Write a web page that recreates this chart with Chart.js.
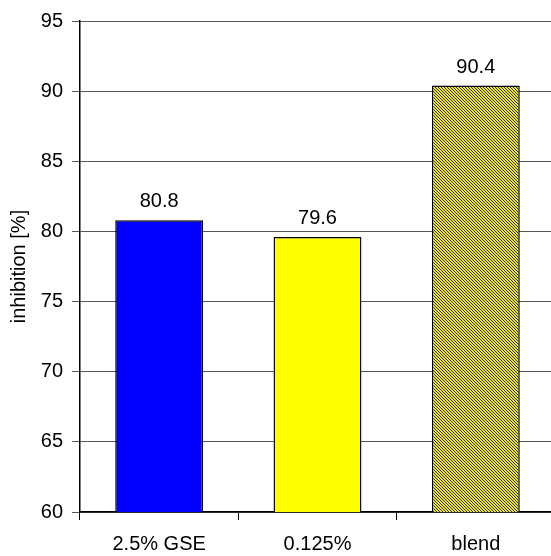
<!DOCTYPE html>
<html><head><meta charset="utf-8">
<script src="https://cdn.jsdelivr.net/npm/chart.js@4/dist/chart.umd.min.js"></script>
<style>html,body{margin:0;padding:0;background:#fff;overflow:hidden}#wrap{width:556px;height:556px;position:relative}</style>
</head><body><div id="wrap"><canvas id="c"></canvas></div>
<script>
const categories = ["2.5% GSE", "0.125%", "blend"];
const values = [80.8, 79.6, 90.4];
const yTicks = [60, 65, 70, 75, 80, 85, 90, 95];
const yTitle = "inhibition [%]";

function makePattern(){
  const p = document.createElement('canvas');
  p.width = 3; p.height = 3;
  const g = p.getContext('2d');
  g.fillStyle = '#f0e800'; g.fillRect(0,0,3,3);
  g.fillStyle = '#2a2a90';
  for (let i=0;i<3;i++){ g.fillRect(i,i,1,1); }
  return g.createPattern(p,'repeat');
}
const FAM = "'Liberation Sans', Arial, sans-serif";
const font = {family:FAM, size:20};
const labelPlugin = {
  id:'vals',
  afterDatasetsDraw(chart){
    const ctx = chart.ctx; const meta = chart.getDatasetMeta(0);
    ctx.save(); ctx.fillStyle='#000'; ctx.font="20px " + FAM;
    ctx.textAlign='center'; ctx.textBaseline='alphabetic';
    meta.data.forEach((b,i)=>{ ctx.fillText(values[i].toFixed(1), b.x, b.y-13); });
    ctx.restore();
  }
};
new Chart(document.getElementById('c'), {
  type:'bar',
  data:{labels:categories, datasets:[{data:values,
    backgroundColor:['#0000ff','#ffff00',makePattern()],
    borderColor:'#000', borderWidth:1.5, borderSkipped:false,
    categoryPercentage:1, barPercentage:0.555}]},
  options:{
    responsive:true, maintainAspectRatio:false, animation:false,
    devicePixelRatio:1,
    layout:{padding:{top:21,right:1,left:0,bottom:0}},
    plugins:{legend:{display:false}, tooltip:{enabled:false}},
    scales:{
      x:{
        grid:{offset:true, drawOnChartArea:false, color:'#000', tickLength:8, lineWidth:1},
        border:{color:'#000', width:1.5},
        ticks:{color:'#000', font, padding:12},
        afterFit(s){ s.height = 44; }
      },
      y:{
        min:60, max:95,
        afterBuildTicks(s){ s.ticks = yTicks.map(v=>({value:v})); },
        grid:{color:'#555', tickLength:8, lineWidth:1},
        border:{color:'#000', width:1.5},
        ticks:{color:'#000', font, padding:9},
        title:{display:true, text:yTitle, color:'#000', font:{family:FAM,size:20}, padding:{top:7,bottom:0}},
        afterFit(s){ s.width = 80; }
      }
    }
  },
  plugins:[labelPlugin]
});
</script></body></html>
